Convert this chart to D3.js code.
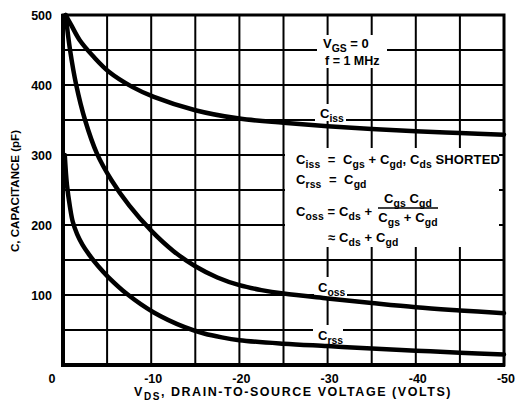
<!DOCTYPE html>
<html><head><meta charset="utf-8">
<script src="https://cdn.jsdelivr.net/npm/d3@7"></script>
<style>
body{margin:0;background:#fff}
svg{display:block}
text{font-family:"Liberation Sans",Arial,sans-serif;font-weight:bold;fill:#000;white-space:pre}
</style>
</head><body>
<svg id="c" width="516" height="404"></svg>
<script>
// ---- data ----
const vCiss = [-0.3, -1, -1.9, -3.5, -5.2, -7.9, -10.3, -15, -20, -25, -30, -35, -40, -45, -50];
const cCiss = [500, 484, 464, 440, 419, 397, 383, 364, 352, 346, 341, 337, 334, 331.5, 329];
const vCoss = [-0.3, -0.8, -1.5, -2.5, -3.85, -5.5, -7.5, -10, -12.5, -15, -17.5, -20, -22.5, -25, -30, -35, -40, -45, -50];
const cCoss = [500, 450, 400, 350, 302, 264, 228, 192, 163, 141, 125, 114, 107, 102, 95, 88.5, 82.5, 78, 74];
const vCrss = [-0.2, -0.45, -0.8, -1.1, -1.6, -2.2, -3, -4, -5.1, -7.3, -10.3, -13.8, -16, -18, -20, -25, -30, -35, -40, -45, -50];
const cCrss = [300, 257, 225, 205, 187, 172, 157, 141, 126, 101, 75, 54, 45, 39.5, 35.5, 30.5, 27, 23.5, 20.5, 17.5, 15];
const xTickVals = [-10, -20, -30, -40, -50];
const xTickLabels = ["-10", "-20", "-30", "-40", "-50"];
const yTickVals = [100, 200, 300, 400, 500];
const yTickLabels = ["100", "200", "300", "400", "500"];
const xGridVals = [-5, -10, -15, -20, -25, -30, -35, -40, -45];
const yGridVals = [50, 100, 150, 200, 250, 300, 350, 400, 450];

const svg = d3.select("#c");
const x = d3.scaleLinear().domain([0, -50]).range([63, 504]);
const y = d3.scaleLinear().domain([0, 500]).range([365, 15]);

// gridlines
const g = svg.append("g").attr("stroke", "#000").attr("stroke-width", 2);
xGridVals.forEach(v => g.append("line").attr("x1", x(v)).attr("x2", x(v)).attr("y1", y(500)).attr("y2", y(0)));
yGridVals.forEach(v => g.append("line").attr("x1", x(0)).attr("x2", x(-50)).attr("y1", y(v)).attr("y2", y(v)));

// white masks behind annotations
const masks = [[317, 35, 70, 33], [315, 104, 31, 17], [285, 148, 214, 99], [314, 277, 33, 20], [313, 325, 30, 19]];
masks.forEach(r => svg.append("rect").attr("x", r[0]).attr("y", r[1]).attr("width", r[2]).attr("height", r[3]).attr("fill", "#fff"));

// frame
svg.append("rect").attr("x", x(0)).attr("y", y(500)).attr("width", x(-50) - x(0)).attr("height", y(0) - y(500))
  .attr("fill", "none").attr("stroke", "#000").attr("stroke-width", 3);
svg.append("line").attr("x1", x(0)).attr("x2", x(0)).attr("y1", y(500) - 1).attr("y2", y(0) + 2).attr("stroke", "#000").attr("stroke-width", 4);
svg.append("line").attr("x1", x(0) - 2).attr("x2", x(-50) + 1).attr("y1", y(0)).attr("y2", y(0)).attr("stroke", "#000").attr("stroke-width", 4);

// curves
const line = d3.line().x(d => x(d[0])).y(d => y(d[1])).curve(d3.curveCatmullRom.alpha(0.5));
[[vCiss, cCiss], [vCoss, cCoss], [vCrss, cCrss]].forEach(([vs, cs]) => {
  svg.append("path").datum(vs.map((v, i) => [v, cs[i]])).attr("d", line)
    .attr("fill", "none").attr("stroke", "#000").attr("stroke-width", 4.5).attr("stroke-linecap", "round");
});

// rich text helper: parts starting with "_" are subscripts
function rich(x0, y0, parts, fs, anchor, ls) {
  const t = svg.append("text").attr("x", x0).attr("y", y0).attr("font-size", fs).attr("text-anchor", anchor || "start");
  if (ls !== undefined) t.attr("letter-spacing", ls);
  let sub = false;
  parts.forEach(p => {
    const isSub = p.startsWith("_");
    const s = isSub ? p.slice(1) : p;
    const ts = t.append("tspan").text(s);
    if (isSub && !sub) ts.attr("dy", fs * 0.3);
    if (!isSub && sub) ts.attr("dy", -fs * 0.3);
    if (isSub) ts.attr("font-size", fs * 0.8);
    sub = isSub;
  });
  return t;
}
function fitSpacing(t, target) {
  const w = t.node().getComputedTextLength();
  const n = t.text().length;
  const ls = (target - w) / n;
  t.attr("letter-spacing", ls);
  return ls;
}

// tick labels
yTickVals.forEach((v, i) => svg.append("text").attr("x", 52).attr("y", y(v) + 4.5).attr("text-anchor", "end").attr("font-size", 12.5).text(yTickLabels[i]));
svg.append("text").attr("x", 52).attr("y", 383).attr("text-anchor", "middle").attr("font-size", 12.5).text("0");
xTickVals.forEach((v, i) => svg.append("text").attr("x", x(v) + 2).attr("y", 383).attr("text-anchor", "middle").attr("font-size", 12.5).text(xTickLabels[i]));

// axis titles
const yt = svg.append("text").attr("transform", "translate(19,191) rotate(-90)").attr("text-anchor", "middle").attr("font-size", 11.5).text("C, CAPACITANCE (pF)");
fitSpacing(yt, 122);
const xt = rich(134, 396, ["V", "_DS", ", DRAIN-TO-SOURCE VOLTAGE (VOLTS)"], 12.5);
fitSpacing(xt, 318);

// annotations
rich(323, 48, ["V", "_GS", " = 0"], 13);
rich(325, 65, ["f = 1 MHz"], 12.5);
rich(320, 118, ["C", "_iss"], 13);
rich(318, 292, ["C", "_oss"], 13);
rich(318, 340, ["C", "_rss"], 13);

const fs = 13;
const l1 = rich(296, 164, ["C", "_iss", "  =  C", "_gs", " + C", "_gd", ", C", "_ds", " SHORTED"], fs);
const ls = fitSpacing(l1, 204);
rich(296, 184, ["C", "_rss", "  =  C", "_gd"], fs, "start", ls);
rich(296, 216, ["C", "_oss", " = C", "_ds", " +"], fs, "start", ls);
rich(408, 203, ["C", "_gs", " C", "_gd"], fs, "middle", ls);
svg.append("line").attr("x1", 378).attr("x2", 438).attr("y1", 208).attr("y2", 208).attr("stroke", "#000").attr("stroke-width", 1.5);
rich(408, 222, ["C", "_gs", " + C", "_gd"], fs, "middle", ls);
rich(328, 242, ["\u2248 C", "_ds", " + C", "_gd"], fs, "start", ls);
</script>
</body></html>
